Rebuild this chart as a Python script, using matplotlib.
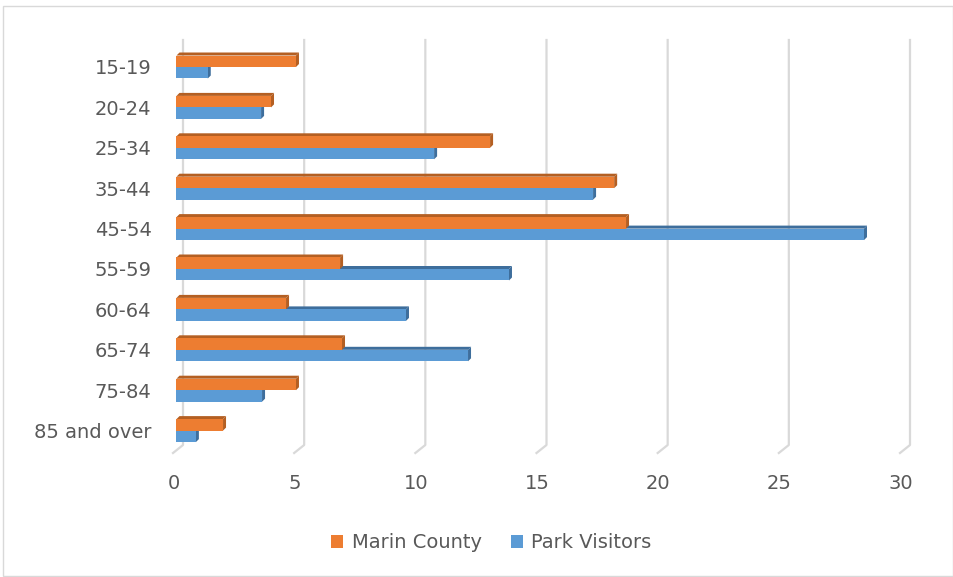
import matplotlib.pyplot as plt
from matplotlib.patches import Polygon, Patch, Rectangle
from matplotlib.transforms import ScaledTranslation

# data
age_groups = ["15-19", "20-24", "25-34", "35-44", "45-54",
              "55-59", "60-64", "65-74", "75-84", "85 and over"]
marin_county = [4.93, 3.9, 12.94, 18.06, 18.55, 6.75, 4.52, 6.83, 4.93, 1.92]
park_visitors = [1.29, 3.49, 10.63, 17.19, 28.37, 13.72, 9.47, 12.03, 3.53, 0.8]
x_ticks = [0, 5, 10, 15, 20, 25, 30]

ORANGE, ORANGE_DARK = "#ED7D31", "#B45F22"
BLUE, BLUE_DARK = "#5B9BD5", "#3E6E9C"
TEXT = "#595959"
GRID = "#D9D9D9"
FONT = "DejaVu Sans"

W, H = 954, 577
fig = plt.figure(figsize=(W / 100, H / 100), dpi=100)
fig.patches.append(Rectangle((3.5 / W, 1.5 / H), 1 - 4.5 / W, 1 - 7 / H,
                             transform=fig.transFigure, fill=False,
                             edgecolor=GRID, lw=1))

# pixel layout of the plot (bar plane)
x0_px, x30_px = 176.5, 903.5
top_px, bot_px = 40, 449
ax = fig.add_axes([x0_px / W, 1 - bot_px / H, (x30_px - x0_px) / W, (bot_px - top_px) / H])

px_x = 30 / (x30_px - x0_px)   # data units per pixel, x
step = 40.4                    # pixels between categories
px_y = 1 / step
y_top = (top_px - 67) / step
y_bot = (bot_px - 67) / step
ax.set_xlim(0, 30)
ax.set_ylim(y_bot, y_top)

# gridlines: back wall with an oblique foot (3D look)
for t in x_ticks:
    ax.plot([t - 3.5 * px_x, t + 6.5 * px_x, t + 6.5 * px_x],
            [y_bot + 4 * px_y, y_bot - 4 * px_y, y_top],
            color=GRID, lw=1.6, zorder=0, clip_on=False)

bar_h = 11.5 * px_y
ddx, ddy = 3 * px_x, 3 * px_y  # bar depth


def bar3d(y0, value, face, dark):
    # y0 = top edge of the front face
    y1 = y0 + bar_h
    ax.add_patch(Polygon([(0, y0), (ddx, y0 - ddy), (value + ddx, y0 - ddy), (value, y0)],
                         closed=True, facecolor=dark, edgecolor="none", zorder=2))
    ax.add_patch(Polygon([(value, y0), (value + ddx, y0 - ddy), (value + ddx, y1 - ddy), (value, y1)],
                         closed=True, facecolor=dark, edgecolor="none", zorder=2))
    ax.add_patch(Rectangle((0, y0), value, bar_h, facecolor=face,
                           edgecolor="none", zorder=3))


for i, (m, p) in enumerate(zip(marin_county, park_visitors)):
    bar3d(i, p, BLUE, BLUE_DARK)
    bar3d(i - bar_h, m, ORANGE, ORANGE_DARK)

ax.set_yticks(range(len(age_groups)))
ax.set_yticklabels(age_groups)
ax.set_xticks(x_ticks)
ax.tick_params(length=0, labelsize=14, colors=TEXT)
ax.tick_params(axis="y", pad=18)
ax.tick_params(axis="x", pad=18)
for s in ax.spines.values():
    s.set_visible(False)
shift = ScaledTranslation(-3 / 100, 0, fig.dpi_scale_trans)
for lab in ax.get_xticklabels():
    lab.set_fontfamily(FONT)
    lab.set_transform(lab.get_transform() + shift)
for lab in ax.get_yticklabels():
    lab.set_fontfamily(FONT)

handles = [Patch(facecolor=ORANGE, label="Marin County"),
           Patch(facecolor=BLUE, label="Park Visitors")]
fig.legend(handles=handles, loc="center", bbox_to_anchor=(491.5 / W, 1 - 543 / H),
           ncol=2, frameon=False, handlelength=0.6, handleheight=0.6,
           handletextpad=0.45, columnspacing=1.5,
           prop={"family": FONT, "size": 14}, labelcolor=TEXT)

fig.savefig("out.png", dpi=100)
